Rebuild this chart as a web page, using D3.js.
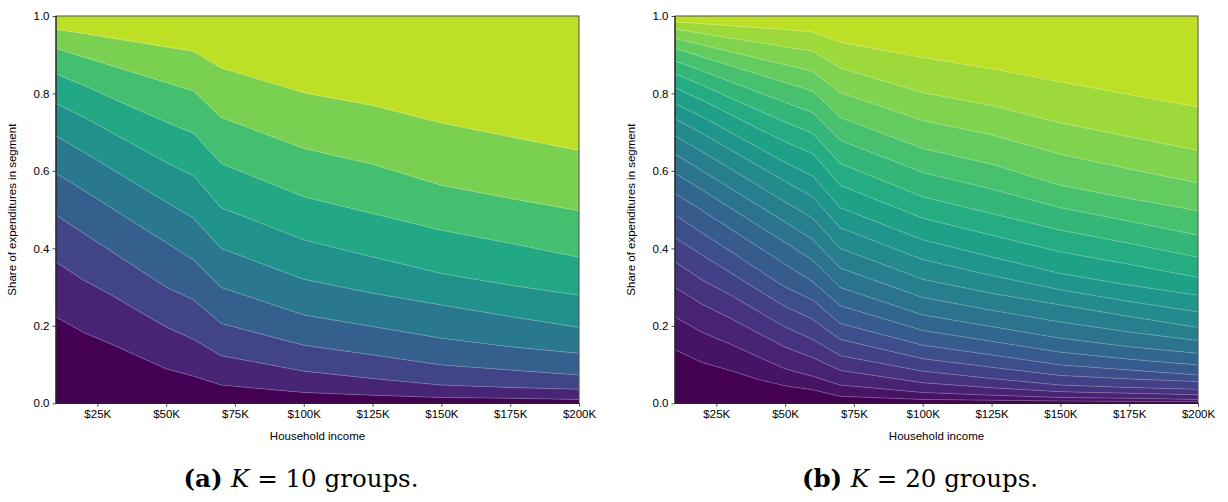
<!DOCTYPE html>
<html><head><meta charset="utf-8">
<script src="https://cdn.jsdelivr.net/npm/d3@7"></script>
<style>body{margin:0;background:#fff}svg{display:block}</style>
</head><body><svg id="c" width="1228" height="502"></svg>
<script>
// ---- data ----
const incomes = [10000,20000,30000,40000,50000,60000,70000,100000,125000,150000,175000,200000];
const xTickValues = [25000,50000,75000,100000,125000,150000,175000,200000];
const xTickLabels = ["$25K","$50K","$75K","$100K","$125K","$150K","$175K","$200K"];
const yTickValues = [0,0.2,0.4,0.6,0.8,1.0];
const yTickLabels = ["0.0","0.2","0.4","0.6","0.8","1.0"];

// cumulative share boundaries (bottom to top), K = 10
const k10Bounds = [
  [0.223,0.183,0.153,0.121,0.089,0.070,0.047,0.028,0.021,0.015,0.013,0.010],
  [0.365,0.318,0.280,0.238,0.197,0.165,0.123,0.083,0.064,0.047,0.041,0.036],
  [0.486,0.439,0.393,0.346,0.300,0.267,0.206,0.150,0.125,0.099,0.086,0.073],
  [0.594,0.550,0.505,0.460,0.415,0.370,0.299,0.228,0.198,0.168,0.146,0.129],
  [0.690,0.649,0.606,0.563,0.520,0.478,0.400,0.320,0.284,0.254,0.224,0.196],
  [0.774,0.739,0.700,0.661,0.622,0.587,0.505,0.422,0.378,0.335,0.305,0.279],
  [0.850,0.821,0.789,0.757,0.726,0.697,0.619,0.533,0.490,0.447,0.413,0.377],
  [0.916,0.894,0.872,0.850,0.828,0.806,0.738,0.658,0.617,0.563,0.529,0.497],
  [0.966,0.955,0.943,0.932,0.920,0.909,0.866,0.802,0.769,0.724,0.688,0.653]
];
// cumulative share boundaries (bottom to top), K = 20
const k20Bounds = [
  [0.138,0.105,0.085,0.062,0.045,0.035,0.018,0.010,0.008,0.006,0.005,0.005],
  [0.223,0.183,0.153,0.121,0.089,0.070,0.047,0.028,0.021,0.015,0.013,0.010],
  [0.299,0.255,0.220,0.182,0.145,0.118,0.085,0.053,0.040,0.030,0.026,0.022],
  [0.365,0.318,0.280,0.238,0.197,0.165,0.123,0.083,0.064,0.047,0.041,0.036],
  [0.428,0.382,0.338,0.293,0.250,0.217,0.165,0.115,0.093,0.072,0.063,0.056],
  [0.486,0.439,0.393,0.346,0.300,0.267,0.206,0.150,0.125,0.099,0.086,0.073],
  [0.542,0.497,0.451,0.405,0.359,0.314,0.252,0.188,0.160,0.132,0.114,0.099],
  [0.594,0.550,0.505,0.460,0.415,0.370,0.299,0.228,0.198,0.168,0.146,0.129],
  [0.643,0.600,0.556,0.512,0.468,0.423,0.349,0.273,0.240,0.210,0.184,0.162],
  [0.690,0.649,0.606,0.563,0.520,0.478,0.400,0.320,0.284,0.254,0.224,0.196],
  [0.735,0.696,0.655,0.614,0.573,0.533,0.453,0.371,0.330,0.293,0.263,0.236],
  [0.774,0.739,0.700,0.661,0.622,0.587,0.505,0.422,0.378,0.335,0.305,0.279],
  [0.815,0.782,0.746,0.710,0.675,0.645,0.563,0.478,0.434,0.391,0.359,0.325],
  [0.850,0.821,0.789,0.757,0.726,0.697,0.619,0.533,0.490,0.447,0.413,0.377],
  [0.884,0.858,0.831,0.804,0.777,0.750,0.679,0.596,0.553,0.505,0.470,0.434],
  [0.916,0.894,0.872,0.850,0.828,0.806,0.738,0.658,0.617,0.563,0.529,0.497],
  [0.942,0.925,0.908,0.891,0.874,0.857,0.802,0.730,0.693,0.643,0.605,0.569],
  [0.966,0.955,0.943,0.932,0.920,0.909,0.866,0.802,0.769,0.724,0.688,0.653],
  [0.985,0.980,0.975,0.970,0.965,0.959,0.932,0.893,0.864,0.830,0.797,0.765]
];
const xLabel = "Household income";
const yLabel = "Share of expenditures in segment";
const captions = [
  {tag:"(a)", k:"10"},
  {tag:"(b)", k:"20"}
];

// ---- drawing ----
const svg = d3.select("#c");
const plotTop = 16, plotBottom = 403.3;
const panels = [
  {left:56, right:579, capX:301, bounds:k10Bounds, cap:captions[0]},
  {left:675, right:1198, capX:920, bounds:k20Bounds, cap:captions[1]}
];
const sans = "Liberation Sans, Arial, sans-serif";

panels.forEach(p => {
  const K = p.bounds.length + 1;
  const x = d3.scaleLinear().domain([10000,200000]).range([p.left,p.right]);
  const y = d3.scaleLinear().domain([0,1]).range([plotBottom,plotTop]);
  const g = svg.append("g");
  const color = i => d3.interpolateViridis(0.9 * i / (K - 1));
  const lowerOf = i => j => i === 0 ? 0 : p.bounds[i-1][j];
  const upperOf = i => j => i === K-1 ? 1 : p.bounds[i][j];
  for (let i = 0; i < K; i++) {
    const lo = lowerOf(i), up = upperOf(i);
    const area = d3.area()
      .x((d,j) => x(incomes[j]))
      .y0((d,j) => y(lo(j)))
      .y1((d,j) => y(up(j)));
    g.append("path").datum(incomes).attr("d", area)
      .attr("fill", color(i)).attr("stroke", color(i)).attr("stroke-width", 0.3);
  }
  // faint seams between bands
  const line = d3.line().x((d,j) => x(incomes[j])).y(d => y(d));
  p.bounds.forEach(b => {
    g.append("path").datum(b).attr("d", line)
      .attr("fill","none").attr("stroke","#fff").attr("stroke-opacity",0.35).attr("stroke-width",0.6);
  });
  // axes
  const xAxis = d3.axisBottom(x).tickValues(xTickValues)
    .tickFormat((d,i) => xTickLabels[i]).tickSizeOuter(0).tickSize(3.5).tickPadding(3.5);
  const yAxis = d3.axisLeft(y).tickValues(yTickValues)
    .tickFormat((d,i) => yTickLabels[i]).tickSizeOuter(0).tickSize(3.5).tickPadding(3);
  const gx = svg.append("g").attr("transform", `translate(0,${plotBottom})`).call(xAxis);
  const gy = svg.append("g").attr("transform", `translate(${p.left},0)`).call(yAxis);
  [gx, gy].forEach(a => {
    a.select(".domain").remove();
    a.selectAll("line").attr("stroke","#222").attr("stroke-width",0.8);
    a.selectAll("text").attr("font-family",sans)
      .attr("font-size",11.5).attr("fill","#000");
  });
  // frame: top/right grey, left/bottom dark
  svg.append("rect").attr("x",p.left).attr("y",plotTop)
    .attr("width",p.right-p.left).attr("height",plotBottom-plotTop)
    .attr("fill","none").attr("stroke","#555").attr("stroke-width",1);
  svg.append("path").attr("d",`M${p.left},${plotTop}V${plotBottom}H${p.right}`)
    .attr("fill","none").attr("stroke","#111").attr("stroke-width",1);
  // labels
  svg.append("text").attr("x",(p.left+p.right)/2).attr("y",439.5)
    .attr("text-anchor","middle").attr("font-family",sans)
    .attr("font-size",11.5).text(xLabel);
  svg.append("text").attr("transform",`translate(${p.left-40},${(plotTop+plotBottom)/2}) rotate(-90)`)
    .attr("text-anchor","middle").attr("font-family",sans)
    .attr("font-size",11.5).text(yLabel);
  // caption
  const t = svg.append("text").attr("x",p.capX).attr("y",487)
    .attr("text-anchor","middle").attr("font-family","DejaVu Serif, serif")
    .attr("font-size",24.5);
  t.append("tspan").attr("font-weight","bold").text(p.cap.tag + " ");
  t.append("tspan").attr("font-style","italic").text("K");
  t.append("tspan").text(" = " + p.cap.k + " groups.");
});
</script>
</body></html>
